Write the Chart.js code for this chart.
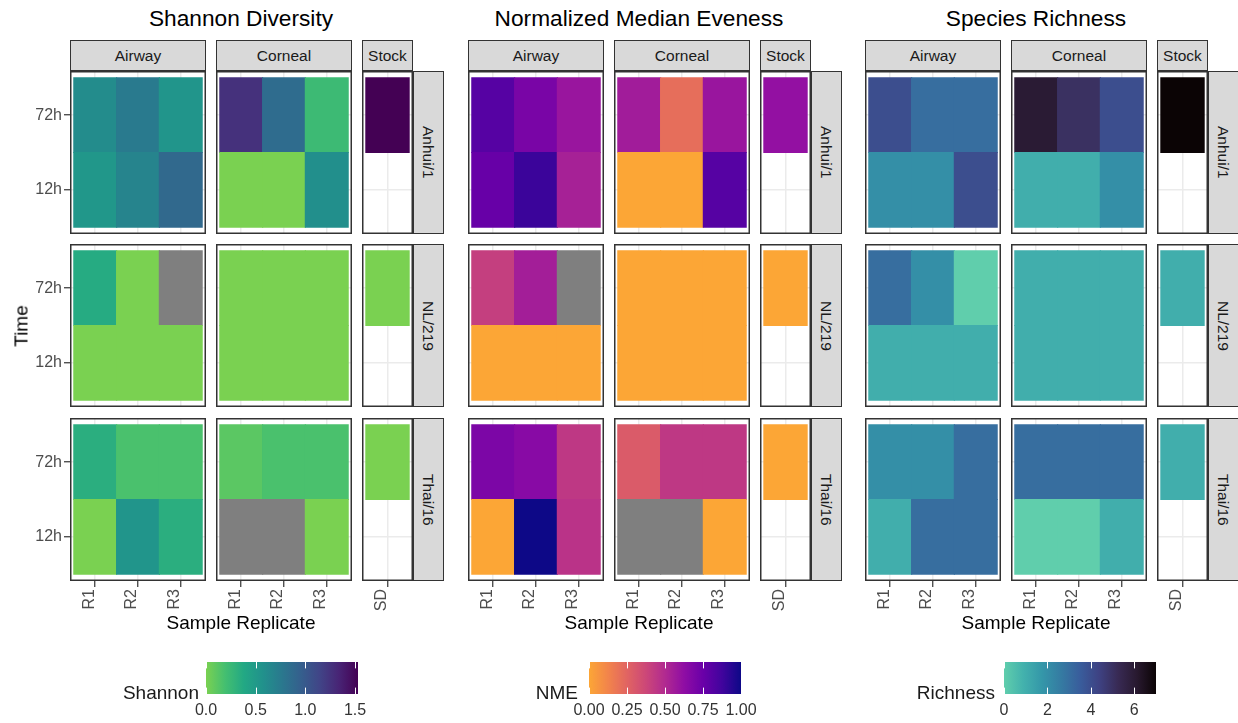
<!DOCTYPE html>
<html>
<head>
<meta charset="utf-8">
<script src="https://cdn.jsdelivr.net/npm/chart.js@4.4.1/dist/chart.umd.min.js"></script>
<style>
  body {
    margin: 0;
    width: 1238px;
    height: 723px;
    overflow: hidden;
    position: relative;
    background: #fff;
    font-family: "Liberation Sans", Arial, sans-serif;
  }
  canvas { position: absolute; }
  .txt { position: absolute; line-height: 1; white-space: nowrap; }
  .strip {
    position: absolute;
    box-sizing: border-box;
    background: #d9d9d9;
    border: 1px solid #333;
    color: #1a1a1a;
    font-size: 15.5px;
    line-height: 1;
    display: flex;
    align-items: center;
    justify-content: center;
  }
</style>
</head>
<body>
<script>
Chart.defaults.font.family = '"Liberation Sans", Arial, sans-serif';
Chart.defaults.animation = false;

// facet and axis categories
const strains = ["Anhui/1", "NL/219", "Thai/16"];
const tissues = ["Airway", "Corneal", "Stock"];
const replicates = ["R1", "R2", "R3"];
const stockReplicates = ["SD"];
const times = ["12h", "72h"];

// NA = sample with no reads (grey tile), null = no sample at all
const NA = NaN;

// one row per strain, columns: Airway R1-R3, Corneal R1-R3, Stock SD
const shannon12h = [
  [0.52, 0.67, 0.88, 0, 0, 0.59, null],
  [0, 0, 0, 0, 0, 0, null],
  [0, 0.54, 0.33, NA, NA, 0, null],
];
const shannon72h = [
  [0.61, 0.75, 0.54, 1.26, 0.86, 0.23, 1.53],
  [0.36, 0, NA, 0, 0, 0, 0],
  [0.33, 0.17, 0.17, 0.11, 0.17, 0.17, 0],
];
const nme12h = [
  [0.76, 0.89, 0.54, 0, 0, 0.81, null],
  [0, 0, 0, 0, 0, 0, null],
  [0, 1.0, 0.46, NA, NA, 0, null],
];
const nme72h = [
  [0.81, 0.7, 0.59, 0.56, 0.21, 0.59, 0.61],
  [0.41, 0.55, NA, 0, 0, 0, 0],
  [0.69, 0.65, 0.44, 0.29, 0.44, 0.44, 0],
];
const richness12h = [
  [2, 2, 4, 1, 1, 2, null],
  [1, 1, 1, 1, 1, 1, null],
  [1, 3, 3, 0, 0, 1, null],
];
const richness72h = [
  [4, 3, 3, 6, 5, 4, 7],
  [3, 2, 0, 1, 1, 1, 1],
  [2, 2, 3, 3, 3, 3, 1],
];

// colour bar limits and breaks
const shannonRange = [0, 1.53];
const nmeRange = [0, 1];
const richnessRange = [0, 7];
const shannonBreaks = [0, 0.5, 1, 1.5];
const nmeBreaks = [0, 0.25, 0.5, 0.75, 1];
const richnessBreaks = [0, 2, 4, 6];

// palettes from 0 to 0.8 (high value first)
const viridisStops = ["#440154", "#482475", "#414487", "#355F8D", "#2A788E", "#21918C", "#22A884", "#44BF70", "#7AD151"];
const plasmaStops = ["#0D0887", "#41049D", "#6A00A8", "#8F0DA4", "#B12A90", "#CC4778", "#E16462", "#F2844B", "#FCA636"];
const makoStops = ["#0B0405", "#28192F", "#382A54", "#3E4283", "#395D9C", "#357BA2", "#3497A9", "#43B2AD", "#60CEAC"];
const naColor = "#7f7f7f";

const metrics = [
  { title: "Shannon Diversity", legend: "Shannon", h12: shannon12h, h72: shannon72h, range: shannonRange, breaks: shannonBreaks, digits: 1, stops: viridisStops },
  { title: "Normalized Median Eveness", legend: "NME", h12: nme12h, h72: nme72h, range: nmeRange, breaks: nmeBreaks, digits: 2, stops: plasmaStops },
  { title: "Species Richness", legend: "Richness", h12: richness12h, h72: richness72h, range: richnessRange, breaks: richnessBreaks, digits: 0, stops: makoStops },
];

// layout
const metricX = [0, 398, 795];
const colX = [70, 216, 362];
const colW = [136, 136, 51];
const rowY = [71, 244, 418];
const rowH = 163;
const PAD = 0.09; // expansion around tiles, in cells
const legendX = [206, 589, 1004];
const legendTitleRight = [199, 578, 995];
const legendW = 152;

function hexToRgb(h) {
  return [1, 3, 5].map((i) => parseInt(h.slice(i, i + 2), 16));
}

// frac: 0 = low end of the bar, 1 = high end
function paletteColor(stops, frac) {
  const pos = (1 - frac) * (stops.length - 1);
  const i = Math.min(Math.floor(pos), stops.length - 2);
  const f = pos - i;
  const a = hexToRgb(stops[i]);
  const b = hexToRgb(stops[i + 1]);
  const c = a.map((v, k) => Math.round(v + (b[k] - v) * f));
  return `rgb(${c[0]},${c[1]},${c[2]})`;
}

function fillFor(metric, v) {
  if (Number.isNaN(v)) return naColor;
  const [lo, hi] = metric.range;
  return paletteColor(metric.stops, (v - lo) / (hi - lo));
}

function addCanvas(x, y, w, h) {
  const canvas = document.createElement("canvas");
  canvas.width = w;
  canvas.height = h;
  canvas.style.left = x + "px";
  canvas.style.top = y + "px";
  canvas.style.width = w + "px";
  canvas.style.height = h + "px";
  document.body.appendChild(canvas);
  return canvas;
}

function addText(str, x, baseline, size, color, anchor) {
  const el = document.createElement("div");
  el.className = "txt";
  el.textContent = str;
  el.style.fontSize = size + "px";
  el.style.color = color;
  el.style.left = x + "px";
  el.style.top = baseline - 0.83 * size + "px";
  const shift = anchor === "middle" ? "-50%" : anchor === "end" ? "-100%" : "0";
  el.style.transform = `translateX(${shift})`;
  document.body.appendChild(el);
  return el;
}

function addStrip(label, x, y, w, h, vertical) {
  const el = document.createElement("div");
  el.className = "strip";
  el.style.left = x + "px";
  el.style.top = y + "px";
  el.style.width = w + "px";
  el.style.height = h + "px";
  const span = document.createElement("span");
  span.textContent = label;
  if (vertical) span.style.writingMode = "vertical-rl";
  el.appendChild(span);
  document.body.appendChild(el);
}

// dark frame round each facet
const panelBorder = {
  id: "panelBorder",
  afterDraw(chart) {
    const a = chart.chartArea;
    const ctx = chart.ctx;
    ctx.save();
    ctx.strokeStyle = "#333333";
    ctx.lineWidth = 1.5;
    ctx.strokeRect(a.left + 0.75, a.top + 0.75, a.right - a.left - 1.5, a.bottom - a.top - 1.5);
    ctx.restore();
  },
};

// white ticks inside the colour bar
const barTicks = {
  id: "barTicks",
  afterDatasetsDraw(chart) {
    const { ctx, chartArea: a, scales } = chart;
    const len = (a.bottom - a.top) / 5;
    ctx.save();
    ctx.strokeStyle = "#ffffff";
    ctx.lineWidth = 1;
    scales.x.ticks.forEach((t) => {
      const px = Math.round(scales.x.getPixelForValue(t.value)) + 0.5;
      ctx.beginPath();
      ctx.moveTo(px, a.top);
      ctx.lineTo(px, a.top + len);
      ctx.moveTo(px, a.bottom - len);
      ctx.lineTo(px, a.bottom);
      ctx.stroke();
    });
    ctx.restore();
  },
};

function facetChart(m, r, c) {
  const metric = metrics[m];
  const reps = c === 2 ? stockReplicates : replicates;
  const first = c * 3;
  const leftAxis = m === 0 && c === 0;
  const bottomAxis = r === strains.length - 1;
  const lm = leftAxis ? 70 : 0;
  const bm = bottomAxis ? 45 : 0;
  const canvas = addCanvas(metricX[m] + colX[c] - lm, rowY[r], colW[c] + lm, rowH + bm);

  const datasets = times.map((t, ti) => {
    const row = (ti === 0 ? metric.h12 : metric.h72)[r].slice(first, first + reps.length);
    const cells = [];
    row.forEach((v, i) => {
      if (v !== null) cells.push({ i, v });
    });
    return {
      label: t,
      data: cells.map((d) => ({ x: d.i + 0.5, y: [ti, ti + 1] })),
      backgroundColor: cells.map((d) => fillFor(metric, d.v)),
    };
  });

  return new Chart(canvas, {
    type: "bar",
    data: { datasets },
    plugins: [panelBorder],
    options: {
      responsive: false,
      events: [],
      layout: { padding: 0, autoPadding: false },
      plugins: { legend: { display: false }, tooltip: { enabled: false } },
      datasets: {
        bar: {
          grouped: false,
          borderWidth: 0,
          inflateAmount: 0.6,
          barPercentage: 1,
          // a single tile only sees the whole scale length as its slot
          categoryPercentage: reps.length === 1 ? 1 / (1 + 2 * PAD) : 1,
        },
      },
      scales: {
        x: {
          type: "linear",
          offset: false,
          min: -PAD,
          max: reps.length + PAD,
          afterBuildTicks: (s) => {
            s.ticks = reps.map((_, i) => ({ value: i + 0.5 }));
          },
          afterFit: (s) => {
            s.height = bm;
            s.paddingLeft = 0;
            s.paddingRight = 0;
          },
          grid: { offset: false, color: "#ebebeb", lineWidth: 1.5, drawTicks: bottomAxis, tickLength: 6, tickColor: "#333333", tickWidth: 1.2 },
          border: { display: false },
          ticks: {
            display: bottomAxis,
            autoSkip: false,
            minRotation: 90,
            maxRotation: 90,
            padding: 2,
            labelOffset: -6,
            color: "#4d4d4d",
            font: { size: 16 },
            callback: (v, i) => reps[i],
          },
        },
        y: {
          type: "linear",
          min: -PAD,
          max: times.length + PAD,
          afterBuildTicks: (s) => {
            s.ticks = times.map((_, i) => ({ value: i + 0.5 }));
          },
          afterFit: (s) => {
            s.width = lm;
            s.paddingTop = 0;
            s.paddingBottom = 0;
          },
          grid: { color: "#ebebeb", lineWidth: 1.5, drawTicks: leftAxis, tickLength: 6, tickColor: "#333333", tickWidth: 1.2 },
          border: { display: false },
          ticks: {
            display: leftAxis,
            padding: 2,
            color: "#4d4d4d",
            font: { size: 16 },
            callback: (v, i) => times[i],
          },
        },
      },
    },
  });
}

function legendChart(m) {
  const metric = metrics[m];
  const pad = 24;
  const canvas = addCanvas(legendX[m] - pad, 662, legendW + 2 * pad, 32 + 30);
  new Chart(canvas, {
    type: "bar",
    data: {
      labels: [metric.legend],
      datasets: [
        {
          data: [metric.range],
          barPercentage: 1,
          categoryPercentage: 1,
          borderWidth: 0,
          backgroundColor: (ctx) => {
            const area = ctx.chart.chartArea;
            if (!area) return "#ffffff";
            const g = ctx.chart.ctx.createLinearGradient(area.left, 0, area.right, 0);
            const n = metric.stops.length - 1;
            metric.stops.forEach((col, i) => g.addColorStop(1 - i / n, col));
            return g;
          },
        },
      ],
    },
    plugins: [barTicks],
    options: {
      indexAxis: "y",
      responsive: false,
      events: [],
      layout: { padding: { left: pad, right: pad, top: 0, bottom: 0 }, autoPadding: false },
      plugins: { legend: { display: false }, tooltip: { enabled: false } },
      scales: {
        x: {
          type: "linear",
          min: metric.range[0],
          max: metric.range[1],
          afterBuildTicks: (s) => {
            s.ticks = metric.breaks.map((v) => ({ value: v }));
          },
          afterFit: (s) => {
            s.height = 30;
            s.paddingLeft = 0;
            s.paddingRight = 0;
          },
          grid: { display: false, drawTicks: false },
          border: { display: false },
          ticks: {
            padding: 7,
            color: "#333333",
            font: { size: 16 },
            maxRotation: 0,
            callback: (v) => Number(v).toFixed(metric.digits),
          },
        },
        y: { display: false },
      },
    },
  });
  addText(metric.legend, legendTitleRight[m], 698.3, 19, "#1a1a1a", "end");
}

metrics.forEach((metric, m) => {
  const ox = metricX[m];
  strains.forEach((strain, r) => {
    tissues.forEach((tissue, c) => facetChart(m, r, c));
    addStrip(strain, ox + 413, rowY[r], 31, rowH, true);
  });
  tissues.forEach((tissue, c) => addStrip(tissue, ox + colX[c], 40, colW[c], 31, false));
  addText(metric.title, ox + 241, 26, 22.7, "#000000", "middle");
  addText("Sample Replicate", ox + 241, 628.5, 19, "#000000", "middle");
  legendChart(m);
});

// y axis title, first block only
const timeLabel = addText("Time", 21, 0, 19, "#000000", "start");
timeLabel.style.top = "325.5px";
timeLabel.style.transform = "translate(-50%, -50%) rotate(-90deg)";
</script>
</body>
</html>
